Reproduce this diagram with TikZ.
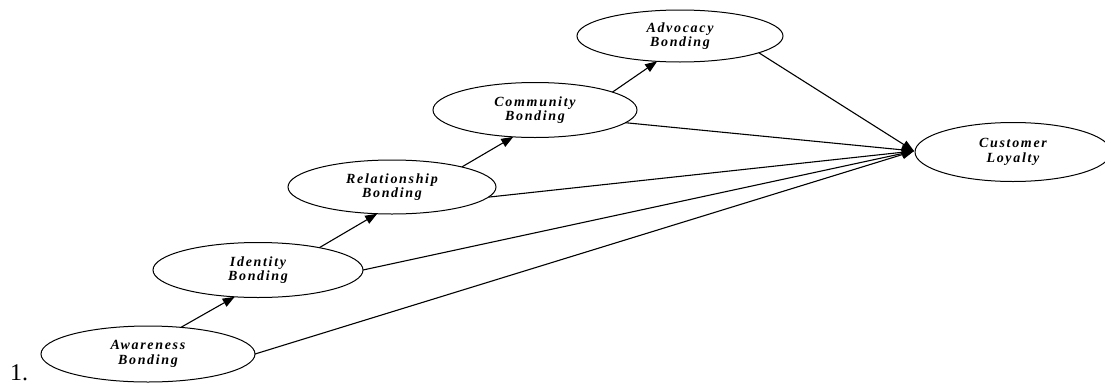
\documentclass[tikz,border=0pt]{standalone}
\usepackage{fontspec}
\setmainfont{Liberation Serif}
\newfontfamily\lblfont[LetterSpace=12]{Liberation Serif}
\usetikzlibrary{arrows.meta,shapes.geometric}
\tikzset{
  bond/.style={ellipse, draw, line width=1pt, inner sep=0pt, outer sep=0pt,
    align=center, font=\lblfont\fontsize{14}{14.5}\selectfont\bfseries\itshape},
  chain/.style={line width=1.1pt, -{Triangle[length=12pt,width=9pt]}},
  toloyal/.style={line width=1.1pt, -{Triangle[length=12pt,width=9pt]}}
}
\begin{document}
\begin{tikzpicture}[x=1pt,y=-1pt]
\useasboundingbox (0,0) rectangle (1105,386);
\node[bond, minimum width=214pt, minimum height=56pt] (aw) at (148,354) {Awareness\\Bonding};
\node[bond, minimum width=210pt, minimum height=55pt] (id) at (258,270) {Identity\\Bonding};
\node[bond, minimum width=208pt, minimum height=54pt] (re) at (392,187) {Relationship\\Bonding};
\node[bond, minimum width=204pt, minimum height=55pt] (co) at (535,110) {Community\\Bonding};
\node[bond, minimum width=206pt, minimum height=52pt] (ad) at (680,36) {Advocacy\\Bonding};
\node[bond, minimum width=196pt, minimum height=59pt] (cl) at (1013,152) {Customer\\Loyalty};
\node[anchor=base west, inner sep=0pt, font=\fontsize{24}{26}\selectfont] (num) at (10,380) {1.};
\coordinate (tip) at (914,151);
\draw[chain] (aw.39) -- (id.229);
\draw[chain] (id.20) -- (re.241);
\draw[chain] (re.16) -- (co.231);
\draw[chain] (co.13) -- (ad.228);
\draw[toloyal] (ad.-12) -- (tip);
\draw[toloyal] (co.-8) -- (tip);
\draw[toloyal] (re.-6) -- (tip);
\draw[toloyal] (id.east) -- (tip);
\draw[toloyal] (aw.east) -- (tip);
\end{tikzpicture}
\end{document}
